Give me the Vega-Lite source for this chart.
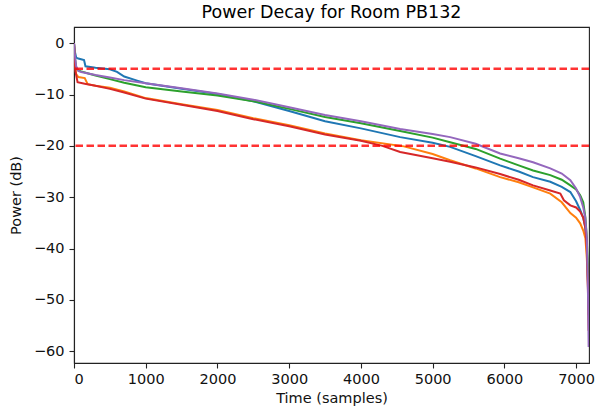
{
  "$schema": "https://vega.github.io/schema/vega-lite/v6.json",
  "width": 515,
  "height": 336,
  "autosize": "none",
  "padding": {"left": 74, "top": 27, "right": 6, "bottom": 52},
  "background": "white",
  "title": {"text": "Power Decay for Room PB132", "fontSize": 17.5, "fontWeight": "normal", "color": "#000", "font": "DejaVu Sans", "offset": 6},
  "config": {
    "font": "DejaVu Sans",
    "view": {"stroke": "#222", "strokeWidth": 1.1},
    "axis": {"grid": false, "domainColor": "#222", "tickColor": "#222", "labelColor": "#111", "titleColor": "#111", "labelFontSize": 14.5, "titleFontSize": 14.5, "titleFontWeight": "normal", "tickSize": 5, "domainWidth": 1.1, "tickWidth": 1.1}
  },
  "datasets": {
    "curves": [
      {"t":0,"p":0,"s":"A"},{"t":10,"p":-1.5,"s":"A"},{"t":30,"p":-2.8,"s":"A"},{"t":60,"p":-3.0,"s":"A"},{"t":140,"p":-3.3,"s":"A"},{"t":160,"p":-4.5,"s":"A"},{"t":300,"p":-4.8,"s":"A"},{"t":500,"p":-5.1,"s":"A"},{"t":600,"p":-5.6,"s":"A"},{"t":700,"p":-6.5,"s":"A"},{"t":880,"p":-7.3,"s":"A"},{"t":1000,"p":-7.8,"s":"A"},{"t":1500,"p":-8.9,"s":"A"},{"t":2000,"p":-9.9,"s":"A"},{"t":2500,"p":-11.3,"s":"A"},{"t":3000,"p":-13.2,"s":"A"},{"t":3500,"p":-15.2,"s":"A"},{"t":4000,"p":-16.6,"s":"A"},{"t":4547,"p":-18.3,"s":"A"},{"t":5000,"p":-19.4,"s":"A"},{"t":5244,"p":-20.2,"s":"A"},{"t":5600,"p":-22.0,"s":"A"},{"t":5941,"p":-23.8,"s":"A"},{"t":6200,"p":-25.0,"s":"A"},{"t":6400,"p":-26.1,"s":"A"},{"t":6640,"p":-27.0,"s":"A"},{"t":6800,"p":-28.0,"s":"A"},{"t":6920,"p":-29.0,"s":"A"},{"t":7000,"p":-30.8,"s":"A"},{"t":7057,"p":-32.5,"s":"A"},{"t":7100,"p":-34,"s":"A"},{"t":7127,"p":-35.8,"s":"A"},{"t":7150,"p":-40,"s":"A"},{"t":7165,"p":-46,"s":"A"},{"t":7175,"p":-52,"s":"A"},
      {"t":0,"p":0,"s":"B"},{"t":10,"p":-3,"s":"B"},{"t":30,"p":-6.0,"s":"B"},{"t":60,"p":-6.6,"s":"B"},{"t":150,"p":-6.8,"s":"B"},{"t":190,"p":-8.0,"s":"B"},{"t":300,"p":-8.3,"s":"B"},{"t":500,"p":-8.7,"s":"B"},{"t":700,"p":-9.4,"s":"B"},{"t":1000,"p":-10.7,"s":"B"},{"t":1500,"p":-11.9,"s":"B"},{"t":2000,"p":-13.0,"s":"B"},{"t":2500,"p":-14.6,"s":"B"},{"t":3000,"p":-16.0,"s":"B"},{"t":3500,"p":-17.6,"s":"B"},{"t":4000,"p":-18.9,"s":"B"},{"t":4600,"p":-20.1,"s":"B"},{"t":5000,"p":-21.6,"s":"B"},{"t":5244,"p":-22.8,"s":"B"},{"t":5600,"p":-24.4,"s":"B"},{"t":5941,"p":-26.1,"s":"B"},{"t":6200,"p":-27.1,"s":"B"},{"t":6400,"p":-28.1,"s":"B"},{"t":6640,"p":-29.3,"s":"B"},{"t":6800,"p":-31.0,"s":"B"},{"t":6920,"p":-33.1,"s":"B"},{"t":7000,"p":-34.0,"s":"B"},{"t":7057,"p":-35.1,"s":"B"},{"t":7100,"p":-36.5,"s":"B"},{"t":7130,"p":-38,"s":"B"},{"t":7150,"p":-42,"s":"B"},{"t":7165,"p":-47,"s":"B"},{"t":7175,"p":-53,"s":"B"},
      {"t":0,"p":0,"s":"C"},{"t":10,"p":-2.5,"s":"C"},{"t":30,"p":-4.8,"s":"C"},{"t":60,"p":-5.3,"s":"C"},{"t":100,"p":-5.5,"s":"C"},{"t":200,"p":-5.9,"s":"C"},{"t":300,"p":-6.3,"s":"C"},{"t":500,"p":-7.0,"s":"C"},{"t":700,"p":-7.7,"s":"C"},{"t":1000,"p":-8.6,"s":"C"},{"t":1500,"p":-9.4,"s":"C"},{"t":2000,"p":-10.2,"s":"C"},{"t":2500,"p":-11.3,"s":"C"},{"t":3000,"p":-12.8,"s":"C"},{"t":3500,"p":-14.4,"s":"C"},{"t":4000,"p":-15.6,"s":"C"},{"t":4547,"p":-17.1,"s":"C"},{"t":5000,"p":-18.4,"s":"C"},{"t":5244,"p":-19.3,"s":"C"},{"t":5600,"p":-20.6,"s":"C"},{"t":5941,"p":-22.5,"s":"C"},{"t":6200,"p":-23.8,"s":"C"},{"t":6400,"p":-24.8,"s":"C"},{"t":6640,"p":-25.7,"s":"C"},{"t":6800,"p":-26.6,"s":"C"},{"t":6920,"p":-27.7,"s":"C"},{"t":7000,"p":-28.5,"s":"C"},{"t":7057,"p":-29.6,"s":"C"},{"t":7100,"p":-31,"s":"C"},{"t":7130,"p":-34,"s":"C"},{"t":7150,"p":-38,"s":"C"},{"t":7165,"p":-44,"s":"C"},{"t":7175,"p":-50,"s":"C"},
      {"t":0,"p":0,"s":"D"},{"t":10,"p":-3,"s":"D"},{"t":20,"p":-5.5,"s":"D"},{"t":50,"p":-7.6,"s":"D"},{"t":150,"p":-7.9,"s":"D"},{"t":300,"p":-8.3,"s":"D"},{"t":500,"p":-8.9,"s":"D"},{"t":700,"p":-9.6,"s":"D"},{"t":1000,"p":-10.8,"s":"D"},{"t":1500,"p":-12.0,"s":"D"},{"t":2000,"p":-13.2,"s":"D"},{"t":2500,"p":-14.8,"s":"D"},{"t":3000,"p":-16.2,"s":"D"},{"t":3500,"p":-17.8,"s":"D"},{"t":4000,"p":-19.0,"s":"D"},{"t":4300,"p":-20.0,"s":"D"},{"t":4547,"p":-21.2,"s":"D"},{"t":5000,"p":-22.4,"s":"D"},{"t":5244,"p":-23.1,"s":"D"},{"t":5600,"p":-24.2,"s":"D"},{"t":5941,"p":-25.5,"s":"D"},{"t":6200,"p":-26.6,"s":"D"},{"t":6400,"p":-27.7,"s":"D"},{"t":6640,"p":-28.7,"s":"D"},{"t":6780,"p":-29.3,"s":"D"},{"t":6830,"p":-30.6,"s":"D"},{"t":6920,"p":-31.6,"s":"D"},{"t":7000,"p":-32.0,"s":"D"},{"t":7057,"p":-32.8,"s":"D"},{"t":7100,"p":-34,"s":"D"},{"t":7130,"p":-36,"s":"D"},{"t":7150,"p":-40,"s":"D"},{"t":7165,"p":-48,"s":"D"},{"t":7175,"p":-56,"s":"D"},
      {"t":0,"p":0,"s":"E"},{"t":10,"p":-2,"s":"E"},{"t":30,"p":-4.5,"s":"E"},{"t":60,"p":-5.4,"s":"E"},{"t":100,"p":-5.6,"s":"E"},{"t":200,"p":-5.9,"s":"E"},{"t":300,"p":-6.2,"s":"E"},{"t":500,"p":-6.7,"s":"E"},{"t":700,"p":-7.2,"s":"E"},{"t":1000,"p":-7.8,"s":"E"},{"t":1500,"p":-8.8,"s":"E"},{"t":2000,"p":-9.8,"s":"E"},{"t":2500,"p":-11.0,"s":"E"},{"t":3000,"p":-12.5,"s":"E"},{"t":3500,"p":-14.0,"s":"E"},{"t":4000,"p":-15.2,"s":"E"},{"t":4547,"p":-16.7,"s":"E"},{"t":5000,"p":-17.7,"s":"E"},{"t":5244,"p":-18.3,"s":"E"},{"t":5600,"p":-19.6,"s":"E"},{"t":5941,"p":-21.5,"s":"E"},{"t":6200,"p":-22.4,"s":"E"},{"t":6400,"p":-23.2,"s":"E"},{"t":6640,"p":-24.4,"s":"E"},{"t":6800,"p":-25.4,"s":"E"},{"t":6920,"p":-26.7,"s":"E"},{"t":7000,"p":-28.3,"s":"E"},{"t":7057,"p":-30.0,"s":"E"},{"t":7100,"p":-32,"s":"E"},{"t":7127,"p":-33.9,"s":"E"},{"t":7150,"p":-38,"s":"E"},{"t":7165,"p":-48,"s":"E"},{"t":7175,"p":-59.2,"s":"E"}
    ],
    "thresholds": [{"level": -5}, {"level": -20}]
  },
  "layer": [
    {
      "data": {"name": "curves"},
      "mark": {"type": "line", "strokeWidth": 2, "clip": true},
      "encoding": {
        "x": {"field": "t", "type": "quantitative", "scale": {"domain": [0, 7180], "nice": false, "zero": false}, "axis": {"title": "Time (samples)", "format": "d", "values": [0,1000,2000,3000,4000,5000,6000,7000], "labelPadding": 4, "titlePadding": 6}},
        "y": {"field": "p", "type": "quantitative", "scale": {"domain": [-62.3, 3.15], "nice": false, "zero": false}, "axis": {"title": "Power (dB)", "values": [0,-10,-20,-30,-40,-50,-60], "labelPadding": 5, "titlePadding": 10}},
        "color": {"field": "s", "type": "nominal", "scale": {"domain": ["A","B","C","D","E"], "range": ["#1f77b4","#ff7f0e","#2ca02c","#d62728","#9467bd"]}, "legend": null}
      }
    },
    {
      "data": {"name": "thresholds"},
      "mark": {"type": "rule", "color": "#ff0000", "opacity": 0.8, "strokeWidth": 2.5, "strokeDash": [7.5, 3.5]},
      "encoding": {"y": {"field": "level", "type": "quantitative"}}
    }
  ]
}
